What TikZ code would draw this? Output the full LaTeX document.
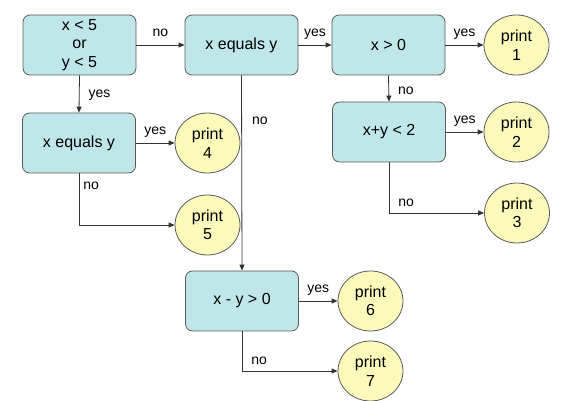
\documentclass[tikz,border=0pt]{standalone}
\usepackage{fontspec}
\setmainfont{Liberation Sans}
\usetikzlibrary{arrows.meta,shapes.geometric}
\definecolor{boxfill}{HTML}{BFE6E8}
\definecolor{circfill}{HTML}{FCFABB}
\definecolor{edgecol}{HTML}{5A5A5A}
\definecolor{linecol}{HTML}{333333}
\tikzset{
  decbox/.style={draw=edgecol, line width=0.8pt, fill=boxfill, rounded corners=7pt,
    minimum width=113pt, minimum height=60pt, inner sep=0pt, align=center,
    font=\fontsize{16}{18.5}\selectfont},
  outnode/.style={ellipse, draw=edgecol, line width=0.8pt, fill=circfill,
    minimum width=65pt, minimum height=60pt, inner sep=0pt, align=center,
    font=\fontsize{16}{18.5}\selectfont},
  arr/.style={draw=linecol, line width=0.8pt, -{Triangle[length=6pt,width=5pt]}},
  lab/.style={font=\fontsize{14}{16}\selectfont, inner sep=0pt, text depth=0pt}
}
\begin{document}
\begin{tikzpicture}[x=1pt,y=-1pt]
\useasboundingbox (0,0) rectangle (566,401);
% decision boxes
\node[decbox] (A) at (79.5,45) {x < 5\\or\\y < 5};
\node[decbox] (B) at (241.5,45) {x equals y};
\node[decbox] (C) at (388.5,45) {x > 0};
\node[decbox] (D) at (79,143) {x equals y};
\node[decbox] (E) at (389,132) {x+y < 2};
\node[decbox] (F) at (242,301) {x - y > 0};
% outputs
\node[outnode] (p1) at (516.5,45) {print\\1};
\node[outnode] (p2) at (516.5,132) {print\\2};
\node[outnode] (p3) at (517,213) {print\\3};
\node[outnode] (p4) at (207.5,143) {print\\4};
\node[outnode] (p5) at (207.5,225) {print\\5};
\node[outnode] (p6) at (370.5,301) {print\\6};
\node[outnode] (p7) at (370.5,371) {print\\7};
% connectors
\draw[arr] (A.east) -- node[lab, above=8pt] {no} (B.west);
\draw[arr] (A.south) -- node[lab, right=9pt] {yes} (D.north);
\draw[arr] (D.east) -- node[lab, above=8pt] {yes} (p4.west);
\draw[arr] (D.south) |- node[lab, right=4pt, pos=0.12] {no} (p5.west);
\draw[arr] (B.east) -- node[lab, above=8pt] {yes} (C.west);
\draw[arr] (B.south) -- node[lab, right=10pt, pos=0.23] {no} (F.north);
\draw[arr] (C.east) -- node[lab, above=8pt] {yes} (p1.west);
\draw[arr] (C.south) -- node[lab, right=9pt, pos=0.6] {no} (E.north);
\draw[arr] (E.east) -- node[lab, above=8pt] {yes} (p2.west);
\draw[arr] (E.south) |- node[lab, above=6pt, pos=0.59] {no} (p3.west);
\draw[arr] (F.east) -- node[lab, above=8pt] {yes} (p6.west);
\draw[arr] (F.south) |- node[lab, above=6pt, pos=0.59] {no} (p7.west);
\end{tikzpicture}
\end{document}
